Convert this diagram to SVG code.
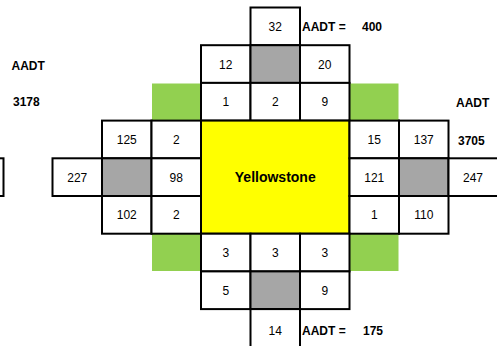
<svg xmlns="http://www.w3.org/2000/svg" width="497" height="346" viewBox="0 0 497 346">
<style>
.c{fill:#fff;stroke:#000;stroke-width:2}
.g{fill:#A6A6A6;stroke:#000;stroke-width:2}
.gr{fill:#92D050}
.y{fill:#FFFF00;stroke:#000;stroke-width:2}
text{font-family:"Liberation Sans",Arial,sans-serif;font-size:12px;fill:#000}
.t{text-anchor:middle}
.b{font-weight:bold}
</style>
<rect width="497" height="346" fill="#fff"/>
<g id="greens">
<rect class="gr" x="152" y="83.5" width="49" height="37"/>
<rect class="gr" x="349.5" y="83.5" width="49" height="37"/>
<rect class="gr" x="152" y="234" width="49" height="37"/>
<rect class="gr" x="349.5" y="234" width="49" height="37"/>
</g>
<g id="north">
<g id="n32"><rect class="c" x="250.5" y="7.5" width="49.5" height="37.7"/><text class="t" x="275.25" y="31">32</text></g>
<g id="n12"><rect class="c" x="201" y="45.2" width="49.5" height="37.7"/><text class="t" x="225.75" y="68.5">12</text></g>
<g id="ngray"><rect class="g" x="250.5" y="45.2" width="49.5" height="37.7"/></g>
<g id="n20"><rect class="c" x="300" y="45.2" width="49.5" height="37.7"/><text class="t" x="324.75" y="68.5">20</text></g>
<g id="n1"><rect class="c" x="201" y="82.9" width="49.5" height="37.7"/><text class="t" x="225.75" y="106.3">1</text></g>
<g id="n2"><rect class="c" x="250.5" y="82.9" width="49.5" height="37.7"/><text class="t" x="275.25" y="106.3">2</text></g>
<g id="n9"><rect class="c" x="300" y="82.9" width="49.5" height="37.7"/><text class="t" x="324.75" y="106.3">9</text></g>
</g>
<g id="west">
<g id="wleft"><rect class="c" x="-46" y="158.3" width="49.5" height="37.7"/></g>
<g id="w125"><rect class="c" x="102" y="120.6" width="49.5" height="37.7"/><text class="t" x="126.75" y="144">125</text></g>
<g id="w2a"><rect class="c" x="151.5" y="120.6" width="49.5" height="37.7"/><text class="t" x="176.25" y="144">2</text></g>
<g id="w227"><rect class="c" x="52.5" y="158.3" width="49.5" height="37.7"/><text class="t" x="77.25" y="181.7">227</text></g>
<g id="wgray"><rect class="g" x="102" y="158.3" width="49.5" height="37.7"/></g>
<g id="w98"><rect class="c" x="151.5" y="158.3" width="49.5" height="37.7"/><text class="t" x="176.25" y="181.7">98</text></g>
<g id="w102"><rect class="c" x="102" y="196" width="49.5" height="37.7"/><text class="t" x="126.75" y="219.4">102</text></g>
<g id="w2b"><rect class="c" x="151.5" y="196" width="49.5" height="37.7"/><text class="t" x="176.25" y="219.4">2</text></g>
</g>
<g id="center"><rect class="y" x="201" y="120.6" width="148.5" height="113.1"/><text class="t b" x="275.25" y="182" style="font-size:14px">Yellowstone</text></g>
<g id="east">
<g id="e15"><rect class="c" x="349.5" y="120.6" width="49.5" height="37.7"/><text class="t" x="374.25" y="144">15</text></g>
<g id="e137"><rect class="c" x="399" y="120.6" width="49.5" height="37.7"/><text class="t" x="423.75" y="144">137</text></g>
<g id="e121"><rect class="c" x="349.5" y="158.3" width="49.5" height="37.7"/><text class="t" x="374.25" y="181.7">121</text></g>
<g id="egray"><rect class="g" x="399" y="158.3" width="49.5" height="37.7"/></g>
<g id="e247"><rect class="c" x="448.5" y="158.3" width="51" height="37.7"/><text class="t" x="473" y="181.7">247</text></g>
<g id="e1"><rect class="c" x="349.5" y="196" width="49.5" height="37.7"/><text class="t" x="374.25" y="219.4">1</text></g>
<g id="e110"><rect class="c" x="399" y="196" width="49.5" height="37.7"/><text class="t" x="423.75" y="219.4">110</text></g>
</g>
<g id="south">
<g id="s3a"><rect class="c" x="201" y="233.7" width="49.5" height="37.7"/><text class="t" x="225.75" y="257.1">3</text></g>
<g id="s3b"><rect class="c" x="250.5" y="233.7" width="49.5" height="37.7"/><text class="t" x="275.25" y="257.1">3</text></g>
<g id="s3c"><rect class="c" x="300" y="233.7" width="49.5" height="37.7"/><text class="t" x="324.75" y="257.1">3</text></g>
<g id="s5"><rect class="c" x="201" y="271.4" width="49.5" height="37.7"/><text class="t" x="225.75" y="294.8">5</text></g>
<g id="sgray"><rect class="g" x="250.5" y="271.4" width="49.5" height="37.7"/></g>
<g id="s9"><rect class="c" x="300" y="271.4" width="49.5" height="37.7"/><text class="t" x="324.75" y="294.8">9</text></g>
<g id="s14"><rect class="c" x="250.5" y="309.1" width="49.5" height="42"/><text class="t" x="275.25" y="334.5">14</text></g>
</g>
<g id="labels">
<text class="b" x="302" y="31">AADT =</text>
<text class="b" x="362" y="31">400</text>
<text class="b" x="302" y="335">AADT =</text>
<text class="b" x="363" y="335">175</text>
<text class="b" x="11.5" y="70">AADT</text>
<text class="b" x="13" y="106">3178</text>
<text class="b" x="456" y="107">AADT</text>
<text class="b" x="458" y="144.5">3705</text>
</g>
</svg>
